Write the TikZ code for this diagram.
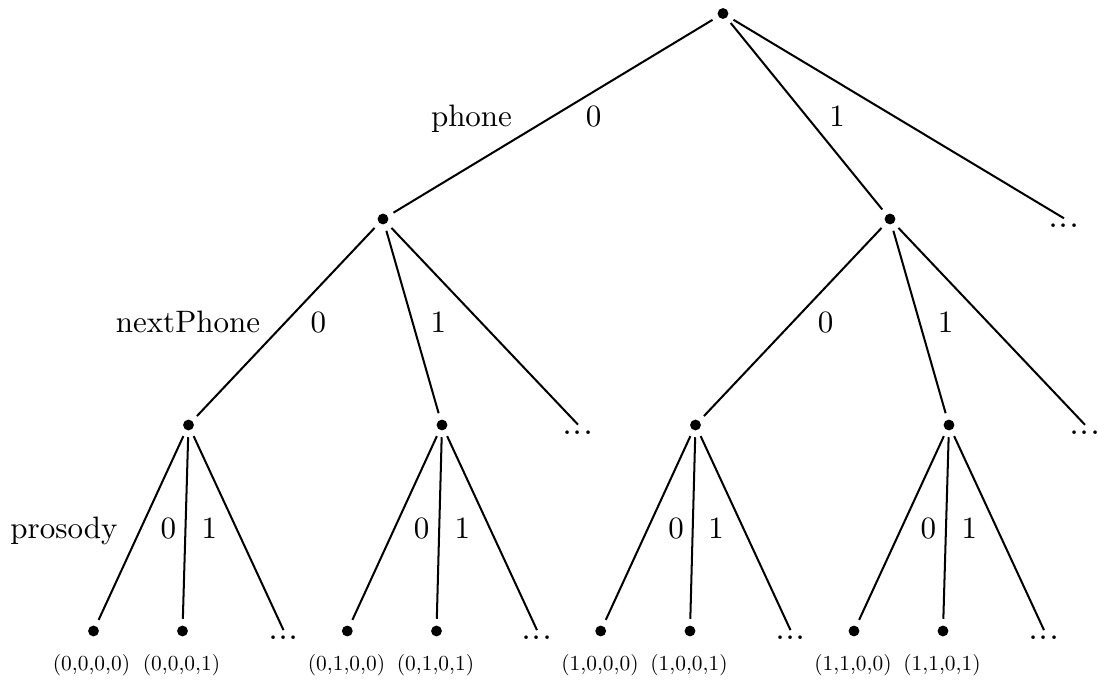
\documentclass[tikz,border=0pt]{standalone}
\newcommand{\mydots}{{\large...}}
\newcommand{\leaftext}[1]{\scalebox{0.69}{#1}}
\begin{document}
\begin{tikzpicture}[x=0.32258pt,y=-0.32258pt,
  every path/.style={line width=0.65pt},
  dot/.style={circle,fill=black,inner sep=0pt,minimum size=3.5pt,outer sep=2.2pt},
  more/.style={inner sep=1.9pt,outer sep=0pt},
  lab/.style={anchor=base,inner sep=0pt},
  leaflab/.style={anchor=base,inner sep=0pt}]
\useasboundingbox (0,0) rectangle (1098,680);
% nodes
\node[dot] (r) at (723,13.5) {};
\node[dot] (a) at (383,219) {};
\node[dot] (b) at (890,219) {};
\node[more] (rd) at (1064,226) {\mydots};
\node[dot] (aa) at (188.5,425) {};
\node[dot] (ab) at (442,425) {};
\node[more] (ad) at (578,432.3) {\mydots};
\node[dot] (ba) at (695.5,425) {};
\node[dot] (bb) at (949,425) {};
\node[more] (bd) at (1085,432.5) {\mydots};
% leaves
\node[dot] (aaa) at (93.5,631) {};
\node[dot] (aab) at (182.5,631) {};
\node[more] (aad) at (283.5,637.8) {\mydots};
\node[dot] (aba) at (347.3,631) {};
\node[dot] (abb) at (436.5,631) {};
\node[more] (abd) at (537,637.8) {\mydots};
\node[dot] (baa) at (600.7,631) {};
\node[dot] (bab) at (690,631) {};
\node[more] (bad) at (790.5,637.8) {\mydots};
\node[dot] (bba) at (854,631) {};
\node[dot] (bbb) at (943,631) {};
\node[more] (bbd) at (1044,637.8) {\mydots};
% edges
\draw (r) -- (a);
\draw (r) -- (b);
\draw (r) -- (rd.north);
\draw (a) -- (aa);
\draw (a) -- (ab);
\draw (a) -- (ad.north);
\draw (b) -- (ba);
\draw (b) -- (bb);
\draw (b) -- (bd.north);
\draw (aa) -- (aaa);
\draw (aa) -- (aab);
\draw (aa) -- (aad.north);
\draw (ab) -- (aba);
\draw (ab) -- (abb);
\draw (ab) -- (abd.north);
\draw (ba) -- (baa);
\draw (ba) -- (bab);
\draw (ba) -- (bad.north);
\draw (bb) -- (bba);
\draw (bb) -- (bbb);
\draw (bb) -- (bbd.north);
% labels
\node[lab] (lphone) at (471.5,126.5) {phone};
\node[lab] (l0) at (593.5,126.5) {0};
\node[lab] (l1) at (837,126.5) {1};
\node[lab] (lnext) at (188,332.5) {nextPhone};
\node[lab] (la0) at (318.3,332.5) {0};
\node[lab] (la1) at (438.3,332.5) {1};
\node[lab] (lb0) at (825.7,332.5) {0};
\node[lab] (lb1) at (945.7,332.5) {1};
\node[lab] (lpros) at (64,538.5) {prosody};
\node[lab] (laa0) at (168.3,538.5) {0};
\node[lab] (laa1) at (209.3,538.5) {1};
\node[lab] (lab0) at (421.7,538.5) {0};
\node[lab] (lab1) at (462.3,538.5) {1};
\node[lab] (lba0) at (676,538.5) {0};
\node[lab] (lba1) at (716,538.5) {1};
\node[lab] (lbb0) at (928.3,538.5) {0};
\node[lab] (lbb1) at (969.3,538.5) {1};
% leaf labels
\node[leaflab] (t1) at (91.5,670) {\leaftext{(0,0,0,0)}};
\node[leaflab] (t2) at (181.5,670) {\leaftext{(0,0,0,1)}};
\node[leaflab] (t3) at (346.5,670) {\leaftext{(0,1,0,0)}};
\node[leaflab] (t4) at (435.5,670) {\leaftext{(0,1,0,1)}};
\node[leaflab] (t5) at (600,670) {\leaftext{(1,0,0,0)}};
\node[leaflab] (t6) at (689,670) {\leaftext{(1,0,0,1)}};
\node[leaflab] (t7) at (853,670) {\leaftext{(1,1,0,0)}};
\node[leaflab] (t8) at (942,670) {\leaftext{(1,1,0,1)}};
\end{tikzpicture}
\end{document}
